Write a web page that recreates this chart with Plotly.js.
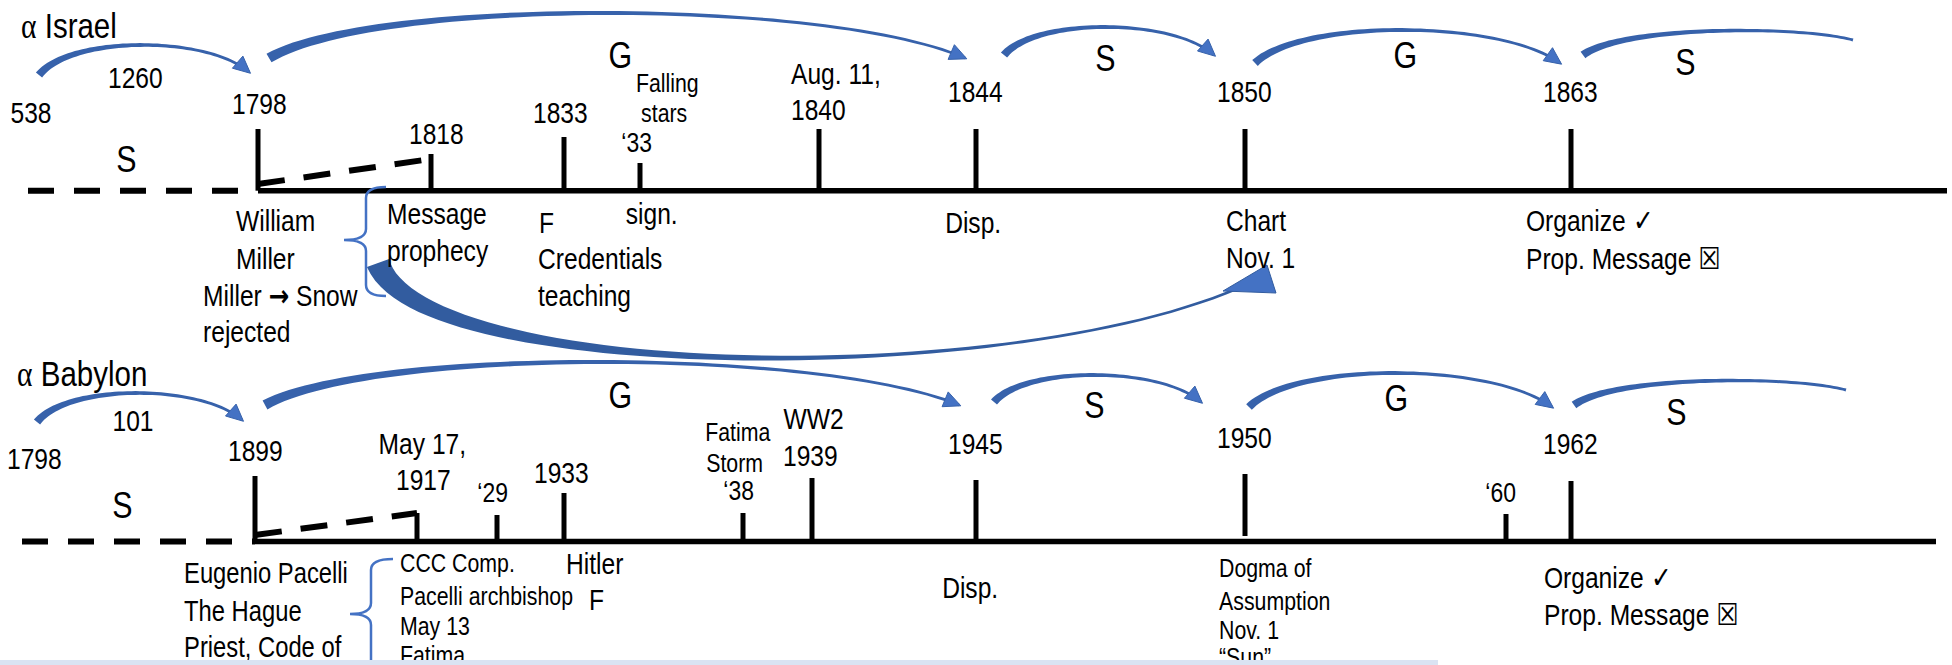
<!DOCTYPE html>
<html><head><meta charset="utf-8">
<script src="https://cdn.plot.ly/plotly-3.0.1.min.js"></script>
<style>
html,body{margin:0;padding:0;background:#fff;overflow:hidden}
#wrap{position:relative;width:1952px;height:665px}
#chart{width:1952px;height:665px}
#strip{position:absolute;left:0;top:660px;width:1438px;height:5px;background:#dae3f3;z-index:10}
</style>
</head><body>
<div id="wrap"><div id="chart"></div><div id="strip"></div></div>
<script>
// ---------- data (diagram units = page pixels) ----------
const rowTitles = [['Israel', 19, 25], ['Babylon', 15, 373]];

// timeline axes: [dashed start, solid start, end, baseline y]
const israelAxis  = [28, 258, 1947, 190.7];
const babylonAxis = [22, 255, 1936, 541.5];

// event ticks
const israelTickX   = [258, 431, 564, 640, 819, 976, 1245, 1571];
const israelTickTop = [129, 154, 137, 163, 129, 129, 129, 129];
const babylonTickX   = [255, 417, 497, 564, 743, 812, 976, 1245, 1506, 1571];
const babylonTickTop = [476, 513, 515, 493, 513, 478, 480, 474, 514, 481];
const babylonTickBase = [541.5, 541.5, 541.5, 541.5, 541.5, 541.5, 541.5, 536, 541.5, 541.5];

// dashed diagonals [x0,y0,x1,y1]
const israelDiag  = [258, 184, 431, 159];
const babylonDiag = [255, 535, 417, 513];

const ARROW = "<span style=\"font-family:'DejaVu Sans';font-weight:bold\">\u2192</span>";
const XBOX = "<span style=\"font-family:'DejaVu Sans';font-weight:bold\">\u2612</span>";

// labels: [text, x, y, anchor, size]
const israelText = [
  ['1260', 135, 77, 'c', 30], ['538', 31, 112, 'c', 30], ['1798', 259, 103, 'c', 30],
  ['1818', 436, 133, 'c', 30], ['1833', 560, 112, 'c', 30],
  ['Falling', 667, 83, 'c', 26], ['stars', 664, 113, 'c', 26], ['\u201833', 636, 142, 'c', 28],
  ['Aug. 11,', 789, 73, 'l', 30], ['1840', 789, 109, 'l', 30],
  ['1844', 975, 91, 'c', 30], ['1850', 1244, 91, 'c', 30], ['1863', 1570, 91, 'c', 30]
];
const israelPeriods = [['S', 126, 159], ['G', 620, 55], ['S', 1105, 58], ['G', 1405, 55], ['S', 1685, 62]];
const israelNotes = [
  ['William', 234, 220, 'l', 30], ['Miller', 234, 258, 'l', 30],
  ['Miller ' + ARROW + ' Snow', 201, 295, 'l', 30], ['rejected', 201, 331, 'l', 30],
  ['Message', 385, 213, 'l', 30], ['prophecy', 385, 250, 'l', 30],
  ['F', 537, 222, 'l', 30], ['Credentials', 536, 258, 'l', 30], ['teaching', 536, 295, 'l', 30],
  ['sign.', 651, 213, 'c', 30], ['Disp.', 973, 222, 'c', 30],
  ['Chart', 1224, 220, 'l', 30], ['Nov. 1', 1224, 257, 'l', 30],
  ['Organize \u2713', 1524, 220, 'l', 30], ['Prop. Message ' + XBOX, 1524, 258, 'l', 30]
];

const babylonText = [
  ['101', 133, 420, 'c', 30], ['1798', 34, 458, 'c', 30], ['1899', 255, 450, 'c', 30],
  ['May 17,', 422, 443, 'c', 30], ['1917', 423, 479, 'c', 30], ['\u201829', 492, 492, 'c', 28],
  ['1933', 561, 472, 'c', 30],
  ['Fatima', 738, 432, 'c', 26], ['Storm', 734, 463, 'c', 26], ['\u201838', 738, 490, 'c', 28],
  ['WW2', 813, 418, 'c', 30], ['1939', 810, 455, 'c', 30], ['1945', 975, 443, 'c', 30],
  ['1950', 1244, 437, 'c', 30], ['\u201860', 1500, 492, 'c', 28], ['1962', 1570, 443, 'c', 30]
];
const babylonPeriods = [['S', 122, 505], ['G', 620, 395], ['S', 1094, 405], ['G', 1396, 398], ['S', 1676, 412]];
const babylonNotes = [
  ['Eugenio Pacelli', 182, 573, 'l', 29], ['The Hague', 182, 611, 'l', 29], ['Priest, Code of', 182, 647, 'l', 29],
  ['CCC Comp.', 398, 563, 'l', 26], ['Pacelli archbishop', 398, 596, 'l', 26],
  ['May 13', 398, 626, 'l', 26], ['Fatima', 398, 655, 'l', 26],
  ['Hitler', 564, 563, 'l', 30], ['F', 587, 599, 'l', 30],
  ['Disp.', 970, 587, 'c', 30],
  ['Dogma of', 1217, 568, 'l', 26], ['Assumption', 1217, 601, 'l', 26],
  ['Nov. 1', 1217, 630, 'l', 26], ['\u201cSun\u201d', 1217, 657, 'l', 26],
  ['Organize \u2713', 1542, 577, 'l', 30], ['Prop. Message ' + XBOX, 1542, 614, 'l', 30]
];

// period arcs: [x0, y0, x1, y1, peakY, arrowhead?]
const israelArcs = [
  [39, 75, 249, 72, 45, 1], [269, 58, 965, 58, 13, 1], [1004, 55, 1214, 55, 27, 1],
  [1255, 63, 1560, 63, 30, 1], [1583, 55, 1853, 40, 31, 0]
];
const babylonArcs = [
  [37, 422, 242, 420, 393, 1], [265, 405, 959, 405, 362, 1], [994, 402, 1201, 402, 375, 1],
  [1249, 407, 1552, 407, 373, 1], [1574, 405, 1846, 390, 381, 0]
];

// big arrow (Miller -> Chart): cubic P0, C1, C2, P1 and head triangle
const bigArrowCurve = [[378, 263], [420, 382], [1020, 390], [1250, 283]];
const bigArrowHead = [[1267, 265], [1223, 291], [1276, 293]];

// braces: [x of spine, top y, middle y, bottom y, hook right x, tip left x]
const braces = [[366, 187, 240, 296, 386, 344], [371, 559, 614, 700, 393, 350]];

// ---------- drawing ----------
const FONT = "'Liberation Sans',Arial,sans-serif";
const NARROW = 0.82;   // Arial Narrow look: Arial metrics compressed horizontally
const BLUE = '#3762ab', BLUE2 = '#4472c4';

function cubicPt(P, t) {
  const u = 1 - t;
  return [u*u*u*P[0][0] + 3*u*u*t*P[1][0] + 3*u*t*t*P[2][0] + t*t*t*P[3][0],
          u*u*u*P[0][1] + 3*u*u*t*P[1][1] + 3*u*t*t*P[2][1] + t*t*t*P[3][1]];
}
function cubicD(P, t) {
  const u = 1 - t;
  return [3*u*u*(P[1][0]-P[0][0]) + 6*u*t*(P[2][0]-P[1][0]) + 3*t*t*(P[3][0]-P[2][0]),
          3*u*u*(P[1][1]-P[0][1]) + 6*u*t*(P[2][1]-P[1][1]) + 3*t*t*(P[3][1]-P[2][1])];
}
function taper(P, wfun) {
  const N = 60, up = [], dn = [];
  for (let i = 0; i <= N; i++) {
    const t = i / N, p = cubicPt(P, t), d = cubicD(P, t);
    const len = Math.hypot(d[0], d[1]) || 1, nx = -d[1]/len, ny = d[0]/len, w = wfun(t)/2;
    up.push([p[0] + nx*w, p[1] + ny*w]); dn.push([p[0] - nx*w, p[1] - ny*w]);
  }
  const pts = up.concat(dn.reverse());
  return 'M' + pts.map(q => q[0].toFixed(1) + ',' + q[1].toFixed(1)).join('L') + 'Z';
}
function arcCurve(a) {
  const [x0, y0, x1, y1, pk] = a, L = x1 - x0;
  const c = (pk - 0.125*(y0 + y1)) / 0.75;
  return [[x0, y0], [x0 + 0.15*L, c], [x1 - 0.2*L, c], [x1, y1]];
}
function headPath(P, hl, hw) {
  const d = cubicD(P, 1), len = Math.hypot(d[0], d[1]), dx = d[0]/len, dy = d[1]/len;
  const nx = -dy, ny = dx, e = P[3];
  const bx = e[0] - dx*hl, by = e[1] - dy*hl;
  return 'M' + (e[0]+dx*2).toFixed(1) + ',' + (e[1]+dy*2).toFixed(1) +
    'L' + (bx + nx*hw).toFixed(1) + ',' + (by + ny*hw).toFixed(1) +
    'L' + (bx - nx*hw).toFixed(1) + ',' + (by - ny*hw).toFixed(1) + 'Z';
}

const shapes = [];
[israelArcs, babylonArcs].forEach(arcs => arcs.forEach(a => {
  const P = arcCurve(a);
  const big = (a[2] - a[0]) > 500;
  const w0 = big ? 10 : 8;
  shapes.push({type: 'path', xref: 'x', yref: 'y', path: taper(P, t => 2.8 + (w0 - 2.8)*Math.pow(1 - t, 2.5)),
    fillcolor: BLUE, line: {width: 0}});
  if (a[5]) shapes.push({type: 'path', xref: 'x', yref: 'y', path: headPath(P, 15, 8),
    fillcolor: BLUE2, line: {color: BLUE, width: 1}});
}));
shapes.push({type: 'path', xref: 'x', yref: 'y', path: taper(bigArrowCurve, t => 2.6 + 21*Math.pow(1 - t, 3)),
  fillcolor: '#325c9f', line: {width: 0}});
shapes.push({type: 'path', xref: 'x', yref: 'y',
  path: 'M' + bigArrowHead.map(p => p.join(',')).join('L') + 'Z', fillcolor: BLUE2, line: {color: '#325c9f', width: 1}});
braces.forEach(b => {
  const [sx, ty, my, by, hx, tx] = b;
  shapes.push({type: 'path', xref: 'x', yref: 'y', line: {color: BLUE2, width: 2.5},
    path: `M${hx},${ty} Q${sx},${ty} ${sx},${ty+11} L${sx},${my-11} Q${sx},${my} ${tx},${my} Q${sx},${my} ${sx},${my+11} L${sx},${by-11} Q${sx},${by} ${hx},${by}`});
});

const traces = [];
function axisTraces(ax, tx, ttop, tbase, diag) {
  const y = ax[3];
  traces.push({x: [ax[0], ax[1]], y: [y, y], mode: 'lines', line: {color: '#000', width: 6, dash: '26px,20px'}, hoverinfo: 'skip'});
  traces.push({x: [ax[1], ax[2]], y: [y, y], mode: 'lines', line: {color: '#000', width: 5.5}, hoverinfo: 'skip'});
  const xs = [], ys = [];
  tx.forEach((x, i) => { xs.push(x, x, null); ys.push(tbase ? tbase[i] : y, ttop[i], null); });
  traces.push({x: xs, y: ys, mode: 'lines', line: {color: '#000', width: 5}, hoverinfo: 'skip'});
  traces.push({x: [diag[0], diag[2]], y: [diag[1], diag[3]], mode: 'lines',
    line: {color: '#000', width: 6, dash: '27px,19px'}, hoverinfo: 'skip'});
}
axisTraces(israelAxis, israelTickX, israelTickTop, null, israelDiag);
axisTraces(babylonAxis, babylonTickX, babylonTickTop, babylonTickBase, babylonDiag);

const annotations = [];
function addLabels(list) {
  list.forEach(l => annotations.push({x: l[1], y: l[2], xref: 'x', yref: 'y', text: l[0], showarrow: false,
    xanchor: l[3] === 'l' ? 'left' : 'center', yanchor: 'middle', font: {family: FONT, size: l[4], color: '#000'}}));
}
[israelText, israelNotes, babylonText, babylonNotes].forEach(addLabels);
[israelPeriods, babylonPeriods].forEach(list => list.forEach(p => annotations.push({x: p[1], y: p[2], xref: 'x', yref: 'y',
  text: p[0], showarrow: false, xanchor: 'center', yanchor: 'middle', font: {family: FONT, size: 37, color: '#000'}})));
rowTitles.forEach(r => annotations.push({x: r[1], y: r[2], xref: 'x', yref: 'y', showarrow: false,
  xanchor: 'left', yanchor: 'middle',
  text: "<span style=\"font-family:'Liberation Serif',serif\">\u03b1</span> " + r[0],
  font: {family: FONT, size: 36, color: '#000'}}));

Plotly.newPlot('chart', traces, {
  width: 1952, height: 665, margin: {l: 0, r: 0, t: 0, b: 0, pad: 0},
  paper_bgcolor: '#fff', plot_bgcolor: '#fff', showlegend: false,
  xaxis: {range: [0, 1952], visible: false, fixedrange: true},
  yaxis: {range: [665, 0], visible: false, fixedrange: true},
  shapes: shapes, annotations: annotations
}, {staticPlot: true, displayModeBar: false}).then(gd => {
  // compress text horizontally around each label's anchor (left edge or centre)
  gd.querySelectorAll('g.annotation').forEach(g => {
    const i = +g.getAttribute('data-index');
    const ann = annotations[i];
    const txt = g.querySelector('text.annotation-text');
    if (!txt || !ann) return;
    const bb = txt.getBBox();
    const ax = ann.xanchor === 'left' ? bb.x : bb.x + bb.width / 2;
    txt.setAttribute('transform', `translate(${(ax * (1 - NARROW)).toFixed(2)},0) scale(${NARROW},1)`);
  });
});
</script>
</body></html>
